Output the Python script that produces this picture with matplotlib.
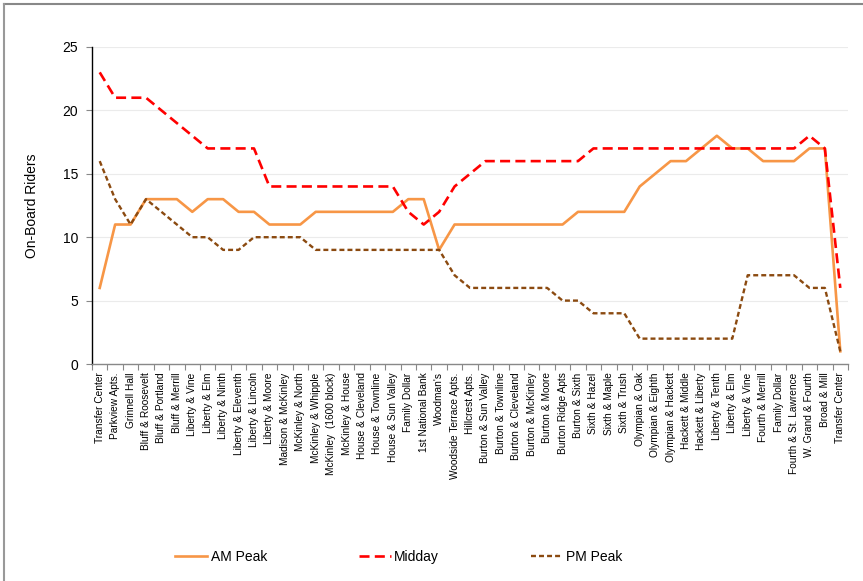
import matplotlib
matplotlib.use("Agg")
import matplotlib.pyplot as plt
from matplotlib.lines import Line2D
import numpy as np

plt.rcParams['font.family'] = ['Liberation Sans', 'DejaVu Sans']

stops = ["Transfer Center", "Parkview Apts.", "Grinnell Hall", "Bluff & Roosevelt",
         "Bluff & Portland", "Bluff & Merrill", "Liberty & Vine", "Liberty & Elm",
         "Liberty & Ninth", "Liberty & Eleventh", "Liberty & Lincoln", "Liberty & Moore",
         "Madison & McKinley", "McKinley & North", "McKinley & Whipple",
         "McKinley  (1600 block)", "McKinley & House", "House & Cleveland",
         "House & Townline", "House & Sun Valley", "Family Dollar", "1st National Bank",
         "Woodman's", "Woodside Terrace Apts.", "Hillcrest Apts.", "Burton & Sun Valley",
         "Burton & Townline", "Burton & Cleveland", "Burton & McKinley", "Burton & Moore",
         "Burton Ridge Apts", "Burton & Sixth", "Sixth & Hazel", "Sixth & Maple",
         "Sixth & Trush", "Olympian & Oak", "Olympian & Eighth", "Olympian & Hackett",
         "Hackett & Middle", "Hackett & Liberty", "Liberty & Tenth", "Liberty & Elm",
         "Liberty & Vine", "Fourth & Merrill", "Family Dollar", "Fourth & St. Lawrence",
         "W. Grand & Fourth", "Broad & Mill", "Transfer Center"]

am_peak = [6, 11, 11, 13, 13, 13, 12, 13, 13, 12, 12, 11, 11, 11, 12, 12, 12, 12, 12, 12,
           13, 13, 9, 11, 11, 11, 11, 11, 11, 11, 11, 12, 12, 12, 12, 14, 15, 16, 16, 17,
           18, 17, 17, 16, 16, 16, 17, 17, 1]
midday = [23, 21, 21, 21, 20, 19, 18, 17, 17, 17, 17, 14, 14, 14, 14, 14, 14, 14, 14, 14,
          12, 11, 12, 14, 15, 16, 16, 16, 16, 16, 16, 16, 17, 17, 17, 17, 17, 17, 17, 17,
          17, 17, 17, 17, 17, 17, 18, 17, 6]
pm_peak = [16, 13, 11, 13, 12, 11, 10, 10, 9, 9, 10, 10, 10, 10, 9, 9, 9, 9, 9, 9,
           9, 9, 9, 7, 6, 6, 6, 6, 6, 6, 5, 5, 4, 4, 4, 2, 2, 2, 2, 2,
           2, 2, 7, 7, 7, 7, 6, 6, 1]

y_ticks = [0, 5, 10, 15, 20, 25]

fig = plt.figure(figsize=(8.63, 5.81), dpi=100)
ax = fig.add_axes([92/863, 1-364/581, (848-92)/863, (364-47)/581])

x = np.arange(len(stops))
ax.plot(x, am_peak, color='#F79646', lw=1.9, label='AM Peak')
ax.plot(x, midday, color='#FF0000', lw=1.9, dashes=(3.8, 2.0), label='Midday')
ax.plot(x, pm_peak, color='#8B4A10', lw=1.7, dashes=(2.1, 1.3), label='PM Peak')

ax.set_xlim(-0.5, len(stops) - 0.5)
ax.set_ylim(0, 25)
ax.set_yticks(y_ticks)
ax.set_yticklabels([str(v) for v in y_ticks], fontsize=10)
ax.yaxis.grid(True, color='#EBEBEB', lw=0.8)
ax.set_axisbelow(True)
ax.tick_params(axis='y', length=4, width=0.8, color='#888888', pad=6)

ax.set_xticks(x)
ax.set_xticklabels(stops, rotation=90, fontsize=7.3,
                   family=['Liberation Sans Narrow', 'Liberation Sans', 'DejaVu Sans'])
ax.tick_params(axis='x', which='major', length=0, pad=6)
ax.set_xticks(np.arange(-0.5, len(stops), 1.0), minor=True)
ax.tick_params(axis='x', which='minor', length=4, width=0.8, color='#888888')

ax.set_ylabel('On-Board Riders', fontsize=10, labelpad=17)

for s in ['top', 'right']:
    ax.spines[s].set_visible(False)
ax.spines['left'].set_color('black')
ax.spines['left'].set_linewidth(1.0)
ax.spines['bottom'].set_color('#888888')
ax.spines['bottom'].set_linewidth(1.0)

fig.legend(loc='center', bbox_to_anchor=(0.462, 1-557/581), ncol=3, frameon=False,
           fontsize=10, handlelength=2.3, handletextpad=0.25, columnspacing=6.6)

# outer frame (top and left edges)
fig.add_artist(Line2D([4/863, 1], [1-4/581, 1-4/581], transform=fig.transFigure,
                      color='#888888', lw=1.5))
fig.add_artist(Line2D([4/863, 4/863], [0, 1-4/581], transform=fig.transFigure,
                      color='#999999', lw=1.5))

fig.savefig('out.png', dpi=100)
